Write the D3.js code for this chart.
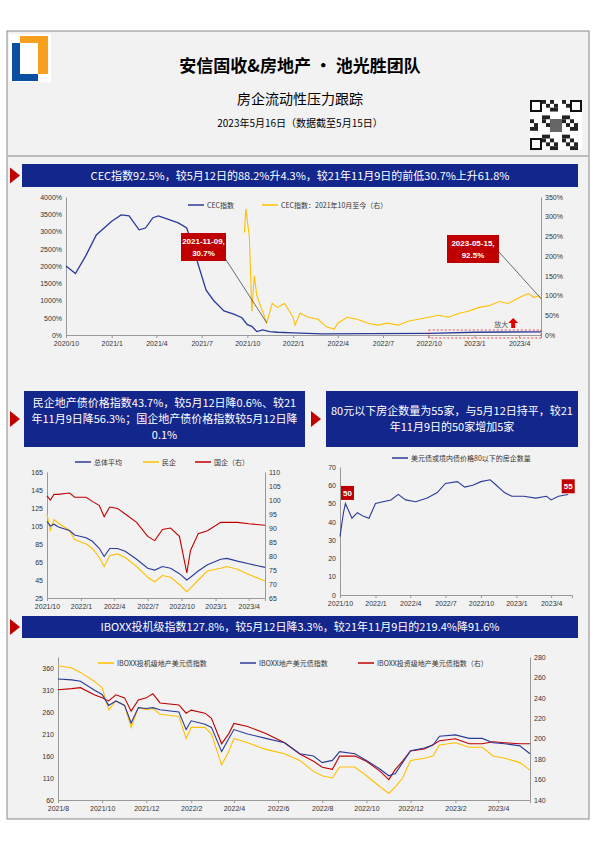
<!DOCTYPE html>
<html><head><meta charset="utf-8">
<script src="https://cdn.jsdelivr.net/npm/d3@7"></script>
<style>
body{margin:0;background:#fff;}
svg{font-family:"Noto Sans CJK SC","Liberation Serif",serif;}
.tick text{font-family:"Liberation Sans",Arial,sans-serif;font-size:7px;fill:#333;}
</style></head>
<body><svg id="page" width="595" height="842"></svg>
<script>
// ---- data ----
const cecDates = ["2020-10-01","2020-10-20","2020-11-10","2020-12-01","2021-01-01","2021-01-20","2021-02-05","2021-02-25","2021-03-10","2021-03-25","2021-04-05","2021-04-25","2021-05-15","2021-06-01","2021-06-10","2021-06-25","2021-07-10","2021-07-25","2021-08-15","2021-09-05","2021-09-20","2021-10-01","2021-10-10","2021-10-20","2021-11-01","2021-11-15","2021-12-01","2022-01-01","2022-03-01","2022-06-01","2022-10-01","2023-01-01","2023-05-15"];
const cecValues = [2000,1780,2300,2900,3300,3480,3450,3050,3100,3400,3450,3350,3250,3100,2700,2000,1300,1000,700,600,500,300,250,100,150,100,80,60,30,40,50,80,92.5];
const cecNewDates = ["2021-09-25","2021-09-28","2021-10-05","2021-10-10","2021-10-15","2021-10-20","2021-11-09","2021-11-20","2021-12-01","2021-12-15","2022-01-01","2022-01-05","2022-01-15","2022-02-01","2022-02-20","2022-03-10","2022-03-25","2022-04-01","2022-04-20","2022-05-10","2022-06-01","2022-06-20","2022-07-10","2022-08-01","2022-08-20","2022-09-10","2022-10-01","2022-10-20","2022-11-10","2022-12-01","2022-12-20","2023-01-10","2023-02-01","2023-02-20","2023-03-10","2023-03-25","2023-04-10","2023-04-20","2023-05-01","2023-05-10","2023-05-15"];
const cecNewValues = [260,320,250,60,150,100,30.7,80,70,80,45,25,55,45,40,20,15,30,45,40,30,25,30,25,35,40,45,50,45,55,60,70,75,85,80,90,100,105,95,100,92.5];

const bondDates = ["2021-10-01","2021-10-10","2021-10-20","2021-11-01","2021-12-01","2021-12-15","2022-01-15","2022-02-01","2022-02-20","2022-03-05","2022-03-20","2022-04-10","2022-05-01","2022-06-01","2022-07-01","2022-07-20","2022-08-10","2022-09-01","2022-09-25","2022-10-15","2022-10-25","2022-11-15","2022-12-10","2023-01-15","2023-02-01","2023-03-01","2023-04-01","2023-05-15"];
const bondAvg     = [110,105,107,104,100,95,92,88,80,71,80,80,77,68,58,56,60,58,52,45,48,55,62,68,69,66,63,59];
const bondPrivate = [118,100,112,108,100,90,85,80,70,60,72,74,70,60,48,43,50,48,40,32,36,45,55,58,60,57,51,44];
const bondSoe     = [101.5,100,102,102,102.5,101,101,99.5,98,94,97.5,97,95,92,87,85.5,89.5,90,87,74,82,88,89,92,92,92,91.5,91];

const cntDates = ["2021-10-01","2021-10-10","2021-10-15","2021-11-01","2021-11-15","2021-12-01","2021-12-15","2022-01-01","2022-01-20","2022-02-10","2022-03-01","2022-03-20","2022-04-15","2022-05-15","2022-06-10","2022-07-01","2022-08-01","2022-08-20","2022-09-10","2022-10-01","2022-10-25","2022-11-10","2022-12-01","2022-12-20","2023-01-20","2023-02-20","2023-03-20","2023-04-01","2023-04-20","2023-05-15"];
const cntValues = [32,45,50,42,45,43,42,50,51,52,55,52,51,53,56,61,62,59,60,62,63,60,56,54,54,53,54,52,54,55];

const iboxxDates = ["2021-08-01","2021-08-20","2021-09-01","2021-09-20","2021-10-01","2021-10-10","2021-10-20","2021-11-01","2021-11-10","2021-11-20","2021-12-01","2021-12-10","2021-12-20","2022-01-15","2022-01-25","2022-02-01","2022-02-20","2022-03-01","2022-03-15","2022-03-25","2022-04-01","2022-04-20","2022-05-15","2022-06-10","2022-07-01","2022-07-20","2022-08-01","2022-08-15","2022-08-25","2022-09-15","2022-10-01","2022-10-20","2022-11-01","2022-11-10","2022-11-20","2022-12-01","2022-12-20","2023-01-01","2023-01-10","2023-02-01","2023-02-20","2023-03-10","2023-03-25","2023-04-10","2023-05-01","2023-05-15"];
const iboxxHy  = [365,360,350,330,315,265,285,275,225,270,265,268,255,250,200,225,225,210,140,170,200,190,175,165,150,125,115,110,135,135,115,90,75,90,110,150,155,160,185,190,180,180,160,155,145,128];
const iboxxAll = [335,333,330,310,300,275,285,275,235,270,268,270,265,260,220,240,232,225,170,200,220,210,200,190,165,160,145,150,170,165,150,130,115,120,145,172,178,185,205,208,200,200,190,188,183,165];
const iboxxIg  = [248,249,250,243,240,237,243,240,227,238,240,244,235,233,225,228,225,220,195,205,215,212,205,196,185,178,172,170,183,183,178,168,160,170,178,188,190,194,198,200,195,195,197,196,195,195];

const cecTicks = ["2020-10","2021-01","2021-04","2021-07","2021-10","2022-01","2022-04","2022-07","2022-10","2023-01","2023-04"];
const quarterTicks = ["2021-10","2022-01","2022-04","2022-07","2022-10","2023-01","2023-04"];
const iboxxTicks = ["2021-08","2021-10","2021-12","2022-02","2022-04","2022-06","2022-08","2022-10","2022-12","2023-02","2023-04"];

// ---- helpers ----
const parse = d3.timeParse("%Y-%m-%d");
const parseM = d3.timeParse("%Y-%m");
const fmtM = d => `${d.getFullYear()}/${d.getMonth()+1}`;
const svg = d3.select("#page");
const BLUE = "#2b3a9a", YEL = "#ffc000", RED = "#c00000", NAVY = "#13268c";

function pts(dates, vals){ return dates.map((d,i)=>({x:parse(d), y:vals[i]})); }

function axes(g, x, yl, yr, h, ticks, lt, rt, lfmt, rfmt, w){
  g.append("g").attr("transform",`translate(0,${h})`)
   .call(d3.axisBottom(x).tickValues(ticks.map(parseM)).tickFormat(fmtM).tickSize(3))
   .call(s=>{s.select(".domain").attr("stroke","#999");s.selectAll("line").attr("stroke","#999");});
  g.append("g").call(d3.axisLeft(yl).tickValues(lt).tickFormat(lfmt).tickSize(0).tickPadding(4))
   .call(s=>s.select(".domain").attr("stroke","#999"));
  if(yr) g.append("g").attr("transform",`translate(${w},0)`)
   .call(d3.axisRight(yr).tickValues(rt).tickFormat(rfmt).tickSize(0).tickPadding(4))
   .call(s=>s.select(".domain").attr("stroke","#999"));
}
function path(g, data, x, y, color, wd){
  g.append("path").datum(data).attr("fill","none").attr("stroke",color).attr("stroke-width",wd||1.1)
   .attr("d", d3.line().x(d=>x(d.x)).y(d=>y(d.y)));
}
function legend(g, items, x0, y0, gap){
  let x = x0;
  items.forEach(([c,t,w])=>{
    g.append("line").attr("x1",x).attr("x2",x+16).attr("y1",y0).attr("y2",y0).attr("stroke",c).attr("stroke-width",1.5);
    g.append("text").attr("x",x+19).attr("y",y0+2.5).attr("font-size",7).attr("fill","#333").text(t);
    x += w;
  });
}
function banner(x,y,w,h,lines,tri){
  svg.append("rect").attr("x",x).attr("y",y).attr("width",w).attr("height",h).attr("fill",NAVY);
  const lh = 16, y0 = y + h/2 - (lines.length-1)*lh/2 + 4;
  lines.forEach((t,i)=>svg.append("text").attr("x",x+w/2).attr("y",y0+i*lh).attr("text-anchor","middle")
    .attr("fill","#fff").attr("font-size",11).text(t));
  svg.append("path").attr("d",`M${tri},${y+h/2-8}L${tri+10},${y+h/2}L${tri},${y+h/2+8}Z`).attr("fill",RED);
}
function tag(x,y,w,h,lines){
  svg.append("rect").attr("x",x).attr("y",y).attr("width",w).attr("height",h).attr("fill",RED);
  lines.forEach((t,i)=>svg.append("text").attr("x",x+w/2).attr("y",y+h/2-(lines.length-1)*6+3+i*12)
    .attr("text-anchor","middle").attr("fill","#fff").attr("font-size",8).attr("font-weight","bold")
    .attr("font-family","Liberation Sans,Arial,sans-serif").text(t));
}

// ---- page frame & header ----
svg.append("rect").attr("x",7).attr("y",31).attr("width",582).attr("height",788).attr("fill","#f2f2f2").attr("stroke","#888");
svg.append("line").attr("x1",7).attr("x2",589).attr("y1",156).attr("y2",156).attr("stroke","#bbb").attr("stroke-width",2);
svg.append("rect").attr("x",9).attr("y",34).attr("width",42).attr("height",48).attr("fill","#fff");
svg.append("path").attr("d","M12,43H20V74H38V81H12Z").attr("fill","#0b4fa0");
svg.append("path").attr("d","M20,36H48V74H38V43H20Z").attr("fill","#f7a01d");
svg.append("text").attr("x",300).attr("y",72).attr("text-anchor","middle").attr("font-size",17).attr("font-weight","bold").text("安信固收&房地产 · 池光胜团队");
svg.append("text").attr("x",300).attr("y",104).attr("text-anchor","middle").attr("font-size",14).text("房企流动性压力跟踪");
svg.append("text").attr("x",300).attr("y",127).attr("text-anchor","middle").attr("font-size",10).text("2023年5月16日（数据截至5月15日）");
// QR-like block
const qr = svg.append("g").attr("transform","translate(530,100)");
qr.append("rect").attr("width",52).attr("height",50).attr("fill","#fff");
for(let i=0;i<13;i++)for(let j=0;j<13;j++){ if(((i*7+j*13+i*j)%5)<2) qr.append("rect").attr("x",i*4).attr("y",j*3.85).attr("width",4).attr("height",3.85).attr("fill","#222"); }
[[0,0],[40,0],[0,38]].forEach(([a,b])=>{qr.append("rect").attr("x",a+1).attr("y",b+1).attr("width",10).attr("height",10).attr("fill","#fff").attr("stroke","#111").attr("stroke-width",2);});
qr.append("rect").attr("x",20).attr("y",19).attr("width",12).attr("height",13).attr("fill","#666");

// ---- chart 1: CEC ----
banner(22,164,556,23,["CEC指数92.5%，较5月12日的88.2%升4.3%，较21年11月9日的前低30.7%上升61.8%"],10);
{
  const L=66,T=197,W=475,H=138;
  const g = svg.append("g").attr("transform",`translate(${L},${T})`);
  const x = d3.scaleTime().domain([parse("2020-10-01"),parse("2023-05-15")]).range([0,W]);
  const yl = d3.scaleLinear().domain([0,4000]).range([H,0]);
  const yr = d3.scaleLinear().domain([0,350]).range([H,0]);
  const pct = d=>d+"%";
  axes(g,x,yl,yr,H,cecTicks,d3.range(0,4001,500),d3.range(0,351,50),pct,pct,W);
  path(g,pts(cecNewDates,cecNewValues),x,yr,YEL);
  path(g,pts(cecDates,cecValues),x,yl,BLUE,1.3);
  legend(g,[[BLUE,"CEC指数",74],[YEL,"CEC指数：2021年10月至今（右）",140]],122,8);
  // annotations
  tag(L+115,T+36,45,28,["2021-11-09,","30.7%"]);
  g.append("line").attr("x1",155).attr("y1",55).attr("x2",x(parse("2021-11-09"))).attr("y2",yr(30.7)).attr("stroke","#333").attr("stroke-width",0.7);
  tag(L+381,T+38,52,28,["2023-05-15,","92.5%"]);
  g.append("line").attr("x1",433).attr("y1",55).attr("x2",x(parse("2023-05-15"))).attr("y2",yr(92.5)).attr("stroke","#333").attr("stroke-width",0.7);
  g.append("rect").attr("x",x(parse("2022-10-01"))).attr("y",H-5).attr("width",W-x(parse("2022-10-01"))).attr("height",8)
   .attr("fill","none").attr("stroke","#e02020").attr("stroke-dasharray","2,2").attr("stroke-width",0.8);
  g.append("text").attr("x",x(parse("2023-02-10"))).attr("y",H-8).attr("font-size",7).attr("fill","#555").text("放大");
  g.append("path").attr("d",`M${x(parse("2023-03-20"))},${H-17}l5,5h-3v5h-4v-5h-3z`).attr("fill","#e00000");
}

// ---- middle banners ----
banner(24,391,281,56,["民企地产债价格指数43.7%，较5月12日降0.6%、较21","年11月9日降56.3%；国企地产债价格指数较5月12日降","0.1%"],10);
banner(326,391,252,56,["80元以下房企数量为55家，与5月12日持平，较21","年11月9日的50家增加5家"],311);

// ---- chart 2: bond price index ----
{
  const L=47,T=472,W=218,H=126;
  const g = svg.append("g").attr("transform",`translate(${L},${T})`);
  const x = d3.scaleTime().domain([parse("2021-10-01"),parse("2023-05-15")]).range([0,W]);
  const yl = d3.scaleLinear().domain([25,165]).range([H,0]);
  const yr = d3.scaleLinear().domain([65,110]).range([H,0]);
  axes(g,x,yl,yr,H,quarterTicks,d3.range(25,166,20),d3.range(65,111,5),d=>d,d=>d,W);
  path(g,pts(bondDates,bondSoe),x,yr,RED);
  path(g,pts(bondDates,bondPrivate),x,yl,YEL);
  path(g,pts(bondDates,bondAvg),x,yl,BLUE);
  legend(g,[[BLUE,"总体平均",68],[YEL,"民企",52],[RED,"国企（右）",60]],28,-10);
}

// ---- chart 3: count below 80 ----
{
  const L=340,T=467,W=232,H=128;
  const g = svg.append("g").attr("transform",`translate(${L},${T})`);
  const x = d3.scaleTime().domain([parse("2021-10-01"),parse("2023-05-25")]).range([0,W]);
  const y = d3.scaleLinear().domain([0,70]).range([H,0]);
  axes(g,x,y,null,H,quarterTicks,d3.range(0,71,10),null,d=>d,null,W);
  g.select(".domain").attr("stroke","#999");
  path(g,pts(cntDates,cntValues),x,y,BLUE);
  legend(g,[[BLUE,"美元债或境内债价格80以下的房企数量",160]],52,-9);
  tag(L+x(parse("2021-10-01"))+1,T+y(58)-3,13,14,["50"]);
  tag(L+x(parse("2023-05-01"))-1,T+y(60)-6,13,14,["55"]);
}

// ---- chart 4: IBOXX ----
banner(22,616,556,22,["IBOXX投机级指数127.8%，较5月12日降3.3%，较21年11月9日的219.4%降91.6%"],10);
{
  const L=58,T=657,W=472,H=143;
  const g = svg.append("g").attr("transform",`translate(${L},${T})`);
  const x = d3.scaleTime().domain([parse("2021-08-01"),parse("2023-05-15")]).range([0,W]);
  const yl = d3.scaleLinear().domain([60,385]).range([H,0]);
  const yr = d3.scaleLinear().domain([140,280]).range([H,0]);
  axes(g,x,yl,yr,H,iboxxTicks,d3.range(60,361,50),d3.range(140,281,20),d=>d,d=>d,W);
  path(g,pts(iboxxDates,iboxxIg),x,yr,RED);
  path(g,pts(iboxxDates,iboxxHy),x,yl,YEL);
  path(g,pts(iboxxDates,iboxxAll),x,yl,BLUE);
  legend(g,[[YEL,"IBOXX投机级地产美元债指数",142],[BLUE,"IBOXX地产美元债指数",118],[RED,"IBOXX投资级地产美元债指数（右）",150]],40,6);
}
</script></body></html>
